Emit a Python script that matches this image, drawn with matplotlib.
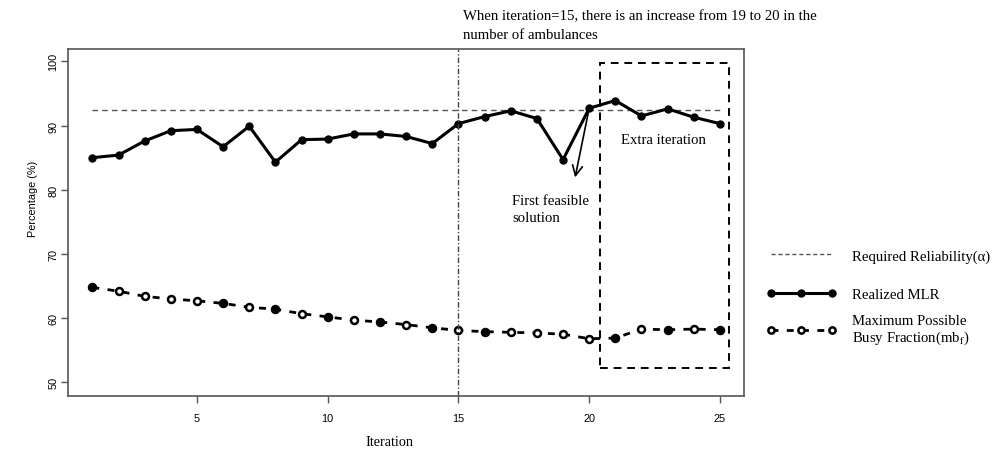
import numpy as np
import matplotlib
matplotlib.use("Agg")
import matplotlib.pyplot as plt
from matplotlib.lines import Line2D
from matplotlib.patches import Rectangle

iteration = list(range(1, 26))
realized_mlr = [85.0, 85.4, 87.6, 89.2, 89.4, 86.7, 89.9, 84.3, 87.8, 87.9,
                88.7, 88.7, 88.3, 87.2, 90.3, 91.4, 92.3, 91.1, 84.7, 92.7,
                93.9, 91.5, 92.6, 91.3, 90.3]
busy_fraction = [64.8, 64.2, 63.4, 63.0, 62.7, 62.3, 61.7, 61.4, 60.7, 60.2,
                 59.7, 59.4, 59.0, 58.5, 58.1, 57.9, 57.8, 57.7, 57.5, 56.8,
                 56.9, 58.3, 58.2, 58.3, 58.2]
required_reliability = 92.5
busy_filled = [1, 6, 8, 10, 12, 14, 16, 21, 23, 25]   # iterations with solid dots
yticks = [50, 60, 70, 80, 90, 100]
xticks = [5, 10, 15, 20, 25]

serif = "Liberation Serif"
sans = "Liberation Sans"
fs = 10.6
plt.rcParams['mathtext.fontset'] = 'stix'

fig = plt.figure(figsize=(10.05, 4.52), dpi=100)
ax = fig.add_axes([0.0677, 0.122, 0.6726, 0.767])

# required reliability
ax.plot([iteration[0], iteration[-1]], [required_reliability] * 2,
        linestyle=(0, (4, 3)), color='#555555', lw=1)

# realized MLR
ax.plot(iteration, realized_mlr, color='black', lw=2.2, marker='o', ms=5)

# busy fraction
ax.plot(iteration, busy_fraction, color='black', lw=2, linestyle=(0, (2.5, 3)),
        marker='o', ms=5, mfc='white', mec='black', mew=1.8)
fx = [i for i in busy_filled]
fy = [busy_fraction[i - 1] for i in busy_filled]
ax.plot(fx, fy, linestyle='none', marker='o', ms=5, color='black')

# iteration 15 marker line
ax.axvline(15, color='#444444', lw=1, linestyle=(0, (4, 1.5, 1, 1.5)))

# extra iteration box
ax.add_patch(Rectangle((20.4, 52.2), 4.95, 47.6, fill=False, ec='black',
                       lw=1.4, linestyle=(0, (4, 3))))
ax.text(21.2, 87.9, "Extra iteration", fontsize=fs, family=serif, va='center')

ax.annotate("", xy=(19.44, 81.5), xytext=(20, realized_mlr[19]),
            arrowprops=dict(arrowstyle='->', color='black', lw=1.2,
                            mutation_scale=18))
ax.text(17.05, 77.0, "First feasible\nsolution", fontsize=fs, family=serif,
        va='center', linespacing=1.4)

ax.set_xlim(0.07, 25.92)
ax.set_ylim(47.9, 101.9)
ax.set_xticks(xticks)
ax.set_yticks(yticks)
ax.set_xticklabels([str(t) for t in xticks], family=sans, fontsize=7.8)
ax.set_yticklabels([str(t) for t in yticks], family=sans, fontsize=7.8,
                   rotation=90, va='center')
ax.tick_params(length=5, width=1, color='#555555')
ax.tick_params(axis='x', pad=7)
ax.tick_params(axis='y', pad=2)
for s in ax.spines.values():
    s.set_color('#555555')
    s.set_linewidth(1.2)
ax.set_xlabel("Iteration", family=serif, fontsize=10.3)
ax.set_ylabel("Percentage (%)", family=sans, fontsize=7.8)
ax.xaxis.set_label_coords(0.475, -0.112)
ax.yaxis.set_label_coords(-0.045, 0.57)

fig.text(0.461, 0.978,
         "When iteration=15, there is an increase from 19 to 20 in the\nnumber of ambulances",
         family=serif, fontsize=fs, va='top', linespacing=1.6)

handles = [
    Line2D([], [], color='#555555', lw=1, linestyle=(0, (3, 2))),
    Line2D([], [], color='black', lw=2.2, marker='o', ms=5),
    Line2D([], [], color='black', lw=2, linestyle=(0, (2.5, 3)), marker='o',
           ms=4.5, mfc='white', mec='black', mew=1.8),
]
labels = ["Required Reliability(\u03b1)", "Realized MLR",
          "Maximum Possible\nBusy Fraction(mb$_{\\rm f}$)"]
legend_y = [0.4314, 0.3473, 0.2677]
for h, lab, ly in zip(handles, labels, legend_y):
    leg = fig.legend([h], [lab], loc='center left', bbox_to_anchor=(0.763, ly),
                     frameon=False, handlelength=4.7, handletextpad=1.1,
                     numpoints=3, borderpad=0, borderaxespad=0,
                     prop={'family': serif, 'size': fs})

fig.savefig("out.png", dpi=100)
